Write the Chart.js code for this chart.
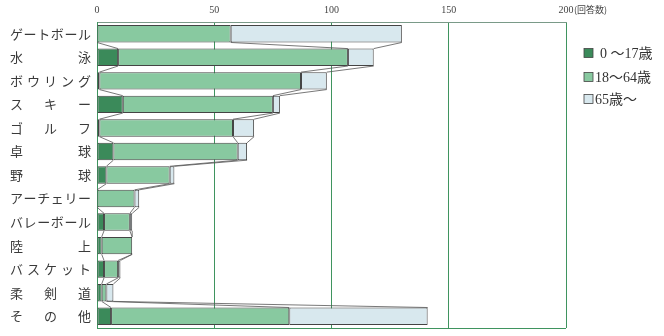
<!DOCTYPE html>
<html>
<head>
<meta charset="utf-8">
<script src="https://cdn.jsdelivr.net/npm/chart.js@4/dist/chart.umd.min.js"></script>
<style>
  html, body { margin: 0; padding: 0; background: #fff; }
  #wrap { width: 664px; height: 336px; }
</style>
</head>
<body>
<div id="wrap"><canvas id="sports-chart" width="664" height="336"></canvas></div>
<script>
// Responses by sport, stacked by age group
const categories = ['ゲートボール', '水泳', 'ボウリング', 'スキー', 'ゴルフ', '卓球', '野球',
    'アーチェリー', 'バレーボール', '陸上', 'バスケット', '柔剣道', 'その他'];
const age0to17 = [0, 9, 1, 11, 1, 7, 4, 0, 3, 2, 3, 2, 6];
const age18to64 = [57, 98, 86, 64, 57, 53, 27, 16, 11, 13, 6, 2, 76];
const age65up = [73, 11, 11, 3, 9, 4, 2, 2, 1, 0, 1, 3, 59];
const seriesNames = ['0 ～17歳', '18～64歳', '65歳～'];
const xTicks = [0, 50, 100, 150, 200];

const colors = ['#3b8a5a', '#88c9a0', '#d8e8ee'];
const gridGreen = '#3f945f';
const labelFont = '"Liberation Serif", "Noto Sans CJK JP", serif';
const jpFont = '"Noto Sans CJK JP", sans-serif';

// Lines joining each segment end to the same segment end of the next bar
const seriesLinesPlugin = {
    id: 'seriesLines',
    afterDatasetsDraw: (chart) => {
        const c = chart.ctx;
        c.save();
        c.strokeStyle = '#555';
        c.lineWidth = 0.8;
        chart.data.datasets.forEach((ds, di) => {
            const bars = chart.getDatasetMeta(di).data;
            for (let i = 0; i < bars.length - 1; i++) {
                const a = bars[i], b = bars[i + 1];
                c.beginPath();
                c.moveTo(a.x, a.y + a.height / 2);
                c.lineTo(b.x, b.y - b.height / 2);
                c.stroke();
            }
        });
        c.restore();
    }
};

// Category names spread evenly across the label column, plus frame and legend
const decorPlugin = {
    id: 'decor',
    afterDraw: (chart) => {
        const c = chart.ctx;
        const { left, right, bottom } = chart.chartArea;
        const y = chart.scales.y;
        const x = chart.scales.x;
        c.save();

        // bottom frame line
        c.strokeStyle = gridGreen;
        c.lineWidth = 1;
        c.beginPath();
        c.moveTo(left, bottom + 0.5);
        c.lineTo(right, bottom + 0.5);
        c.stroke();

        // justified category labels
        c.font = '13px ' + jpFont;
        c.fillStyle = '#3a3a3a';
        c.textBaseline = 'middle';
        c.textAlign = 'left';
        const colLeft = 10, colRight = 91;
        categories.forEach((name, i) => {
            const cy = y.getPixelForValue(i);
            const chars = [...name];
            const widths = chars.map(ch => c.measureText(ch).width);
            const total = widths.reduce((s, w) => s + w, 0);
            const gap = chars.length > 1 ? (colRight - colLeft - total) / (chars.length - 1) : 0;
            let cx = colLeft;
            chars.forEach((ch, k) => {
                c.fillText(ch, cx, cy);
                cx += widths[k] + gap;
            });
        });

        // unit after the last tick label
        c.font = '9px ' + jpFont;
        c.fillStyle = '#444';
        c.textAlign = 'left';
        c.fillText('(回答数)', x.getPixelForValue(200) + 8, 10);

        // legend
        const legendTop = [53, 77, 99];
        const legendTextX = [600, 595, 595];
        seriesNames.forEach((name, i) => {
            const ly = legendTop[i];
            c.fillStyle = colors[i];
            c.fillRect(584, ly - 4.5, 9, 9);
            c.strokeStyle = '#444';
            c.lineWidth = 0.8;
            c.strokeRect(584, ly - 4.5, 9, 9);
            c.fillStyle = '#333';
            c.font = '14px ' + labelFont;
            c.textBaseline = 'middle';
            c.fillText(name, legendTextX[i], ly + 1);
        });
        c.restore();
    }
};

const ctx = document.getElementById('sports-chart').getContext('2d');
new Chart(ctx, {
    type: 'bar',
    data: {
        labels: categories,
        datasets: [age0to17, age18to64, age65up].map((data, i) => ({
            label: seriesNames[i],
            data,
            backgroundColor: colors[i],
            borderColor: '#444',
            borderWidth: 1,
            borderSkipped: false,
            barPercentage: 0.74,
            categoryPercentage: 1
        }))
    },
    plugins: [seriesLinesPlugin, decorPlugin],
    options: {
        indexAxis: 'y',
        responsive: false,
        animation: false,
        layout: { padding: { left: 97, right: 98, top: 0, bottom: 8 } },
        plugins: {
            legend: { display: false },
            tooltip: { enabled: false }
        },
        scales: {
            x: {
                position: 'top',
                stacked: true,
                min: 0,
                max: 200,
                afterFit: (scale) => { scale.height = 22; },
                afterBuildTicks: (scale) => { scale.ticks = xTicks.map(v => ({ value: v })); },
                grid: {
                    color: gridGreen,
                    lineWidth: 1,
                    drawTicks: false
                },
                border: { display: true, color: '#7a9a88' },
                ticks: {
                    color: '#444',
                    font: { family: labelFont, size: 10 },
                    padding: 6,
                    maxRotation: 0
                }
            },
            y: {
                stacked: true,
                afterFit: (scale) => { scale.width = 0; },
                grid: { display: false },
                border: { display: true, color: gridGreen },
                ticks: { display: false }
            }
        }
    }
});
</script>
</body>
</html>
